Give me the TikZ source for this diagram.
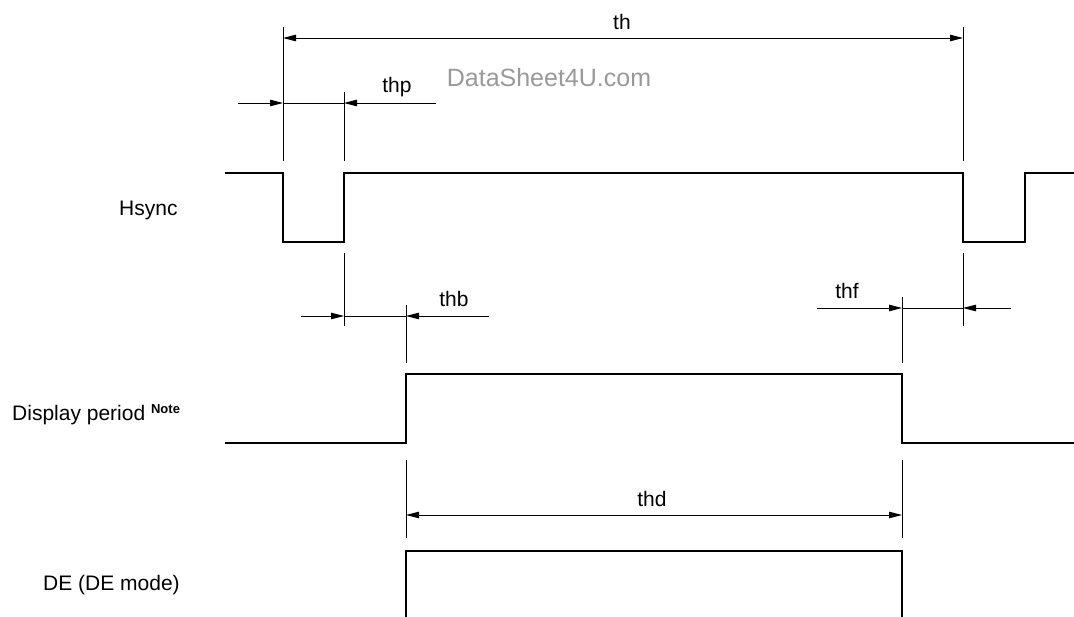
\documentclass[tikz,border=0pt]{standalone}
\usepackage{fontspec}
\setmainfont{Liberation Sans}
\usetikzlibrary{arrows.meta}
\begin{document}
\begin{tikzpicture}[x=1pt,y=-1pt,
  sig/.style={line width=2.8pt, line join=miter},
  ext/.style={line width=0.9pt},
  dim/.style={line width=0.9pt},
  dimarrow/.style={line width=0.9pt, -{Triangle[length=13pt,width=6.5pt]}},
  lbl/.style={inner sep=0pt, anchor=base, font=\fontsize{21}{25}\selectfont},
  signame/.style={inner sep=0pt, anchor=base west, font=\fontsize{21}{25}\selectfont}]
\useasboundingbox (0,0) rectangle (1074,617);

% watermark
\node[inner sep=0pt, anchor=base, text=black!40, font=\fontsize{25}{30}\selectfont] (wm) at (549,87) {DataSheet4U.com};

% signal names
\node[signame] (nh) at (119,216) {Hsync};
\node[signame] (nd) at (12,421) {Display period {\raisebox{8pt}{\fontsize{13}{14}\bfseries Note}}};
\node[signame] (ne) at (43,590) {DE (DE mode)};

% signals
\draw[sig] (225,173) -- (283,173) -- (283,242) -- (344,242) -- (344,173) -- (963,173) -- (963,242) -- (1025,242) -- (1025,173) -- (1074,173);
\draw[sig] (225,443) -- (406,443) -- (406,374) -- (902,374) -- (902,443) -- (1074,443);
\draw[sig] (406,617) -- (406,551) -- (902,551) -- (902,617);

% extension lines
\coordinate (e1t) at (283,27);  \coordinate (e1b) at (283,161);
\coordinate (e2t) at (963,27);  \coordinate (e2b) at (963,161);
\coordinate (e3t) at (344,92);  \coordinate (e3b) at (344,161);
\coordinate (e4t) at (344,253); \coordinate (e4b) at (344,326);
\coordinate (e5t) at (406,305); \coordinate (e5b) at (406,363);
\coordinate (e6t) at (902,297); \coordinate (e6b) at (902,363);
\coordinate (e7t) at (963,253); \coordinate (e7b) at (963,326);
\coordinate (e8t) at (406,460); \coordinate (e8b) at (406,538);
\coordinate (e9t) at (902,460); \coordinate (e9b) at (902,538);
\foreach \n in {1,...,9} { \draw[ext] (e\n t) -- (e\n b); }

% th
\coordinate (th1) at (283,38); \coordinate (th2) at (963,38);
\draw[dim, {Triangle[length=13pt,width=6.5pt]}-{Triangle[length=13pt,width=6.5pt]}] (th1) -- (th2);
\node[lbl] (lth) at (622,30) {th};

% thp
\coordinate (tp0) at (238,103); \coordinate (tp1) at (283,103);
\coordinate (tp2) at (344,103); \coordinate (tp3) at (436,103);
\draw[dimarrow] (tp0) -- (tp1);
\draw[dim] (tp1) -- (tp2);
\draw[dimarrow] (tp3) -- (tp2);
\node[lbl] (lthp) at (397,93) {thp};

% thb
\coordinate (tb0) at (301,316); \coordinate (tb1) at (344,316);
\coordinate (tb2) at (406,316); \coordinate (tb3) at (489,316);
\draw[dimarrow] (tb0) -- (tb1);
\draw[dim] (tb1) -- (tb2);
\draw[dimarrow] (tb3) -- (tb2);
\node[lbl] (lthb) at (454,307) {thb};

% thf
\coordinate (tf0) at (817,308); \coordinate (tf1) at (902,308);
\coordinate (tf2) at (963,308); \coordinate (tf3) at (1011,308);
\draw[dimarrow] (tf0) -- (tf1);
\draw[dim] (tf1) -- (tf2);
\draw[dimarrow] (tf3) -- (tf2);
\node[lbl] (lthf) at (847,299) {thf};

% thd
\coordinate (td1) at (406,515); \coordinate (td2) at (902,515);
\draw[dim, {Triangle[length=13pt,width=6.5pt]}-{Triangle[length=13pt,width=6.5pt]}] (td1) -- (td2);
\node[lbl] (lthd) at (652,507) {thd};
\end{tikzpicture}
\end{document}
